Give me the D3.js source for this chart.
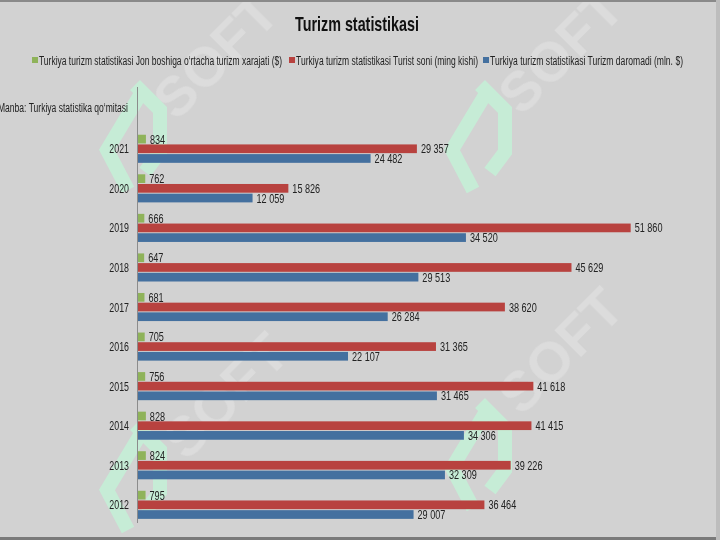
<!DOCTYPE html>
<html><head><meta charset="utf-8">
<script src="https://cdn.jsdelivr.net/npm/d3@7"></script>
<style>
html,body{margin:0;padding:0;background:#d2d2d2;}
svg{display:block;}
text{font-family:"Liberation Sans","Arial",sans-serif;}
</style></head>
<body>
<script>
const years = ["2021","2020","2019","2018","2017","2016","2015","2014","2013","2012"];
const seriesNames = [
  "Turkiya turizm statistikasi Jon boshiga o‘rtacha turizm xarajati ($)",
  "Turkiya turizm statistikasi Turist soni (ming kishi)",
  "Turkiya turizm statistikasi Turizm daromadi (mln. $)"
];
const spending = [834, 762, 666, 647, 681, 705, 756, 828, 824, 795];
const tourists = [29357, 15826, 51860, 45629, 38620, 31365, 41618, 41415, 39226, 36464];
const revenue  = [24482, 12059, 34520, 29513, 26284, 22107, 31465, 34306, 32309, 29007];
const seriesValues = [spending, tourists, revenue];
const colors = ["#8fb35a", "#b8423f", "#44709f"];
const title = "Turizm statistikasi";
const source = "Manba: Turkiya statistika qo‘mitasi";

const W = 720, H = 540;
const svg = d3.select("body").append("svg").attr("width", W).attr("height", H);
svg.append("rect").attr("width", W).attr("height", H).attr("fill", "#d2d2d2");

function condense(sel, f){
  sel.each(function(){
    const w = this.getComputedTextLength();
    d3.select(this).attr("textLength", w*f).attr("lengthAdjust","spacingAndGlyphs");
  });
  return sel;
}

// watermark
const wm = svg.append("g").attr("opacity", 0.5);
[[215,55],[560,50],[560,350],[225,395]].forEach(([x,y])=>{
  wm.append("text").attr("transform",`translate(${x},${y}) rotate(-45)`)
    .attr("text-anchor","middle").attr("dy","0.35em").attr("font-size",56).attr("font-weight","bold")
    .attr("fill","#e6e6e6").text("SOFT");
});
const logo = svg.append("g").attr("fill","none").attr("stroke","#c6ecd6").attr("stroke-width",14).attr("stroke-linejoin","miter");
[[0,0],[-345,0],[0,318],[-345,340]].forEach(([dx,dy])=>{
  const g = logo.append("g").attr("transform",`translate(${dx},${dy})`);
  g.append("path").attr("d","M473,190 L452,150 L485,95");
  g.append("path").attr("d","M480,85 L505,110 L505,152 L490,172");
});

svg.append("rect").attr("x",0).attr("y",0).attr("width",W).attr("height",2).attr("fill","#8a8a8a");
svg.append("rect").attr("x",0).attr("y",537).attr("width",W).attr("height",3).attr("fill","#7a7a7a");
svg.append("rect").attr("x",716).attr("y",0).attr("width",4).attr("height",H).attr("fill","#bdbdbd");

svg.append("text").attr("x", 357).attr("y", 31).attr("text-anchor","middle")
  .attr("font-size", 21).attr("font-weight","bold").attr("fill","#111")
  .attr("textLength",124).attr("lengthAdjust","spacingAndGlyphs").text(title);

// legend
const legendX = [32, 289, 483];
const legendW = [243, 182, 193];
seriesNames.forEach((n,i)=>{
  svg.append("rect").attr("x", legendX[i]).attr("y", 57).attr("width", 6).attr("height", 6).attr("fill", colors[i]);
  svg.append("text").attr("x", legendX[i]+7).attr("y", 65).attr("font-size", 12).attr("fill","#222")
    .attr("textLength", legendW[i]).attr("lengthAdjust","spacingAndGlyphs").text(n);
});

svg.append("text").attr("x", -2).attr("y", 112).attr("font-size", 12).attr("fill","#222")
  .attr("textLength",130).attr("lengthAdjust","spacingAndGlyphs").text(source);

const x = d3.scaleLinear().domain([0, 60000]).range([138, 708]);
const y0 = d3.scaleBand().domain(years).range([129, 524.6]).paddingInner(0.29).paddingOuter(0.145);
const y1 = d3.scaleBand().domain([0,1,2]).range([0, y0.bandwidth()]).paddingInner(0.1);

svg.append("line").attr("x1",137.5).attr("x2",137.5).attr("y1",87).attr("y2",523).attr("stroke","#8c8c8c");

const fmt = v => d3.format(",")(v).replace(/,/g, " ");

const groups = svg.selectAll("g.yr").data(years).join("g").attr("class","yr")
  .attr("transform", d => `translate(0,${y0(d)})`);

groups.each(function(yr, yi){
  const g = d3.select(this);
  seriesValues.forEach((vals, si)=>{
    const v = vals[yi];
    g.append("rect").attr("x", x(0)).attr("y", y1(si)).attr("width", x(v)-x(0))
      .attr("height", y1.bandwidth()).attr("fill", colors[si]);
    condense(g.append("text").attr("x", x(v)+4).attr("y", y1(si)+y1.bandwidth()/2).attr("dy","0.35em")
      .attr("font-size", 13).attr("fill","#222").text(fmt(v)), 0.7);
  });
  condense(g.append("text").attr("x", 129).attr("y", y0.bandwidth()/2).attr("dy","0.35em")
    .attr("text-anchor","end").attr("font-size", 13).attr("fill","#222").text(yr), 0.68);
});
</script>
</body></html>
